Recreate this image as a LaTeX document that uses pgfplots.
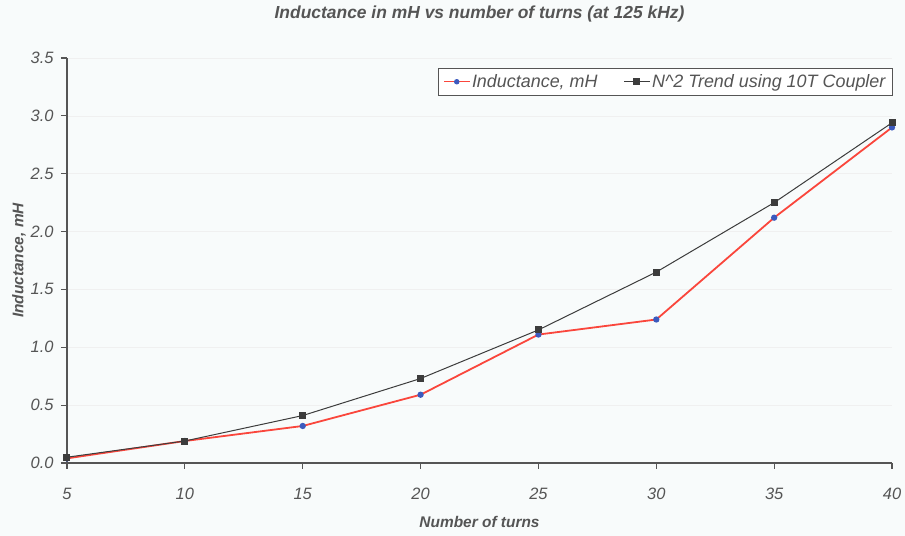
\documentclass[border=0pt]{standalone}
\usepackage{pgfplots}
\pgfplotsset{compat=1.18}
\usepackage{fontspec}
\setmainfont{Liberation Sans}
\definecolor{txt}{RGB}{85,85,85}
\definecolor{redl}{RGB}{250,70,60}
\definecolor{bluem}{RGB}{60,90,190}
\definecolor{darkl}{RGB}{60,60,60}
\definecolor{bg}{RGB}{248,251,251}
\begin{document}
\begin{tikzpicture}[x=1bp,y=1bp]
\fill[bg] (-67,-73) rectangle (838,463);
\begin{axis}[
  at={(0,0)}, anchor=origin,
  scale only axis, width=825bp, height=405bp,
  xmin=5, xmax=40, ymin=0, ymax=3.5,
  xtick={5,10,...,40}, ytick={0,0.5,...,3.5},
  axis x line=bottom, axis y line=left,
  axis line style={-, draw=txt, line width=1.6bp},
  tick style={draw=txt, line width=1.2bp},
  major tick length=6bp, tick align=outside,
  ymajorgrids, grid style={draw=black!6, line width=0.6bp},
  /pgf/number format/assume math mode=true,
  /pgf/number format/fixed, /pgf/number format/fixed zerofill,
  yticklabel style={/pgf/number format/precision=1, font=\fontsize{16.5}{18}\selectfont\itshape, text=txt, xshift=-4bp},
  xticklabel style={font=\fontsize{16.5}{18}\selectfont\itshape, text=txt, yshift=-16bp},
  xticklabel={\pgfmathprintnumber[fixed,precision=0]{\tick}},
  title={Inductance in mH vs number of turns (at 125 kHz)},
  title style={font=\fontsize{17.5}{19}\selectfont\itshape\bfseries, text=txt, at={(0.5,1)}, yshift=26bp},
  xlabel={Number of turns},
  ylabel={Inductance, mH},
  xlabel style={font=\fontsize{15.5}{17}\selectfont\itshape\bfseries, text=txt, yshift=-9bp},
  ylabel style={font=\fontsize{15.5}{17}\selectfont\itshape\bfseries, text=txt, yshift=-2bp},
  legend columns=2,
  legend style={at={(1.001,0.975)}, anchor=north east, draw=txt, line width=0.8bp, fill=white,
    font=\fontsize{18}{20}\selectfont\itshape, text=txt, inner xsep=5bp, inner ysep=4bp,
    /tikz/every even column/.append style={column sep=24bp}},
  legend image code/.code={\draw[mark repeat=2,mark phase=2,#1] plot coordinates {(0cm,0cm) (0.45cm,0cm) (0.9cm,0cm)};},
  legend image post style={line width=1bp},
]
\addplot[color=redl, line width=1.8bp, mark=*, mark size=2.2bp, mark options={fill=bluem, draw=bluem}]
  coordinates {(5,0.04) (10,0.19) (15,0.32) (20,0.59) (25,1.11) (30,1.24) (35,2.12) (40,2.90)};
\addplot[color=darkl, line width=1bp, mark=square*, mark size=3bp, mark options={fill=darkl, draw=darkl}]
  coordinates {(5,0.05) (10,0.19) (15,0.41) (20,0.73) (25,1.15) (30,1.65) (35,2.25) (40,2.94)};
\legend{Inductance{,} mH, N\textasciicircum 2 Trend using 10T Coupler}
\end{axis}
\pgfresetboundingbox
\path (-67,-73) rectangle (838,463);
\end{tikzpicture}
\end{document}
